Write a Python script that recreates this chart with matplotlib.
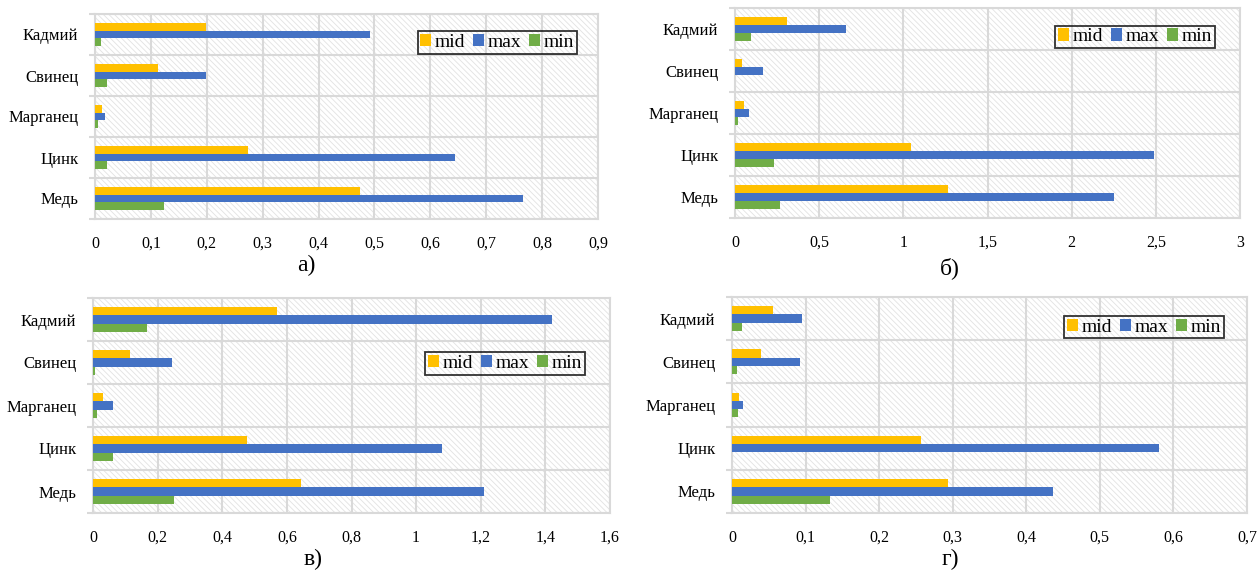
import numpy as np
import matplotlib
matplotlib.use("Agg")
import matplotlib.pyplot as plt
from matplotlib.ticker import MultipleLocator, FuncFormatter
from matplotlib.patches import Patch

plt.rcParams["font.family"] = ["Liberation Serif", "DejaVu Serif"]
plt.rcParams["hatch.color"] = "#e2e2e2"
plt.rcParams["hatch.linewidth"] = 0.6

# Elements, bottom to top
elements = ["Медь", "Цинк", "Марганец", "Свинец", "Кадмий"]
series_names = ["mid", "max", "min"]

a_mid = [0.474, 0.273, 0.012, 0.112, 0.198]
a_max = [0.766, 0.644, 0.018, 0.198, 0.492]
a_min = [0.124, 0.022, 0.005, 0.022, 0.010]

b_mid = [1.263, 1.044, 0.053, 0.040, 0.310]
b_max = [2.252, 2.490, 0.081, 0.165, 0.660]
b_min = [0.270, 0.232, 0.017, 0.000, 0.098]

v_mid = [0.643, 0.476, 0.030, 0.115, 0.568]
v_max = [1.211, 1.080, 0.061, 0.246, 1.420]
v_min = [0.250, 0.063, 0.012, 0.005, 0.167]

g_mid = [0.294, 0.257, 0.010, 0.040, 0.056]
g_max = [0.436, 0.581, 0.015, 0.093, 0.095]
g_min = [0.133, 0.000, 0.008, 0.0065, 0.0136]

panel_labels = ["а)", "б)", "в)", "г)"]
x_limits = [0.9, 3.0, 1.6, 0.7]
x_steps = [0.1, 0.5, 0.2, 0.1]

COLORS = {"mid": "#FFC000", "max": "#4472C4", "min": "#70AD47"}
GRID = "#d9d9d9"

W, H = 1259, 573
fig = plt.figure(figsize=(W / 100, H / 100), dpi=100)


def px_axes(x0, y0, x1, y1):
    return fig.add_axes([x0 / W, 1 - y1 / H, (x1 - x0) / W, (y1 - y0) / H])


# plot-area boxes in pixels (left, top, right, bottom)
boxes = [(95, 14, 598, 219), (735, 8, 1240, 218),
         (93, 298, 610, 513), (732, 297, 1247, 513)]
legend_centers = [(0.80, 0.861), (0.792, 0.862), (0.797, 0.695), (0.80, 0.861)]
label_pos = [(306, 265), (950, 268), (313, 559), (950, 559)]

data = [(a_mid, a_max, a_min), (b_mid, b_max, b_min),
        (v_mid, v_max, v_min), (g_mid, g_max, g_min)]

fmt = FuncFormatter(lambda v, p: f"{v:g}".replace(".", ","))
h = 0.19
y = np.arange(len(elements))

for i, (box, vals) in enumerate(zip(boxes, data)):
    ax = px_axes(*box)
    ax.set_facecolor("white")
    ax.patch.set_hatch("\\\\\\\\\\\\")
    ax.patch.set_edgecolor("#e2e2e2")
    ax.patch.set_linewidth(0)
    for off, name, v in zip([h, 0, -h], series_names, vals):
        ax.barh(y + off, v, height=h, color=COLORS[name], zorder=3, label=name)
    ax.set_xlim(0, x_limits[i])
    ax.set_ylim(-0.5, len(elements) - 0.5)
    ax.xaxis.set_major_locator(MultipleLocator(x_steps[i]))
    ax.xaxis.set_major_formatter(fmt)
    ax.set_yticks(y)
    ax.set_yticklabels(elements)
    ax.set_yticks(np.arange(-0.5, len(elements)), minor=True)
    ax.tick_params(axis="y", which="major", length=0, pad=12, labelsize=12)
    ax.tick_params(axis="y", which="minor", length=4, color=GRID, width=1.5)
    ax.tick_params(axis="x", length=0, pad=12, labelsize=11.5)
    ax.grid(axis="x", color=GRID, linewidth=1.5, zorder=1)
    ax.grid(axis="y", which="minor", color=GRID, linewidth=1.5, zorder=1)
    ax.set_axisbelow(True)
    for s in ax.spines.values():
        s.set_color(GRID)
        s.set_linewidth(1.5)
    handles = [Patch(facecolor=COLORS[n], label=n) for n in series_names]
    leg = ax.legend(handles=handles, loc="center",
                    bbox_to_anchor=legend_centers[i], ncol=3, fontsize=14,
                    handlelength=0.55, handleheight=0.6, handletextpad=0.2,
                    columnspacing=0.4, borderpad=0.15, borderaxespad=0,
                    fancybox=False, frameon=True)
    fr = leg.get_frame()
    fr.set_facecolor("none")
    fr.set_edgecolor("black")
    fr.set_linewidth(1.3)
    fig.text(label_pos[i][0] / W, 1 - label_pos[i][1] / H, panel_labels[i],
             ha="center", va="center", fontsize=17)

fig.savefig("out.png", dpi=100)
